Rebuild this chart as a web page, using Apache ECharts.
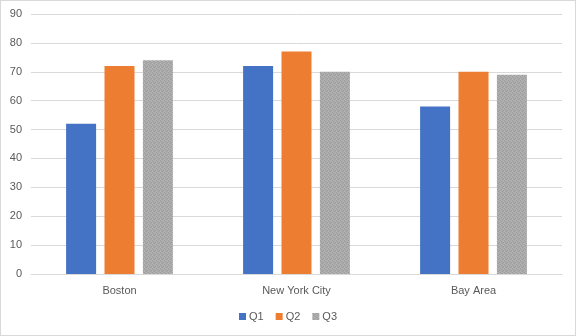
<!DOCTYPE html>
<html>
<head>
<meta charset="utf-8">
<script src="https://cdn.jsdelivr.net/npm/echarts@6/dist/echarts.min.js"></script>
<style>
html,body{margin:0;padding:0;background:#fff;}
#wrap{width:576px;height:336px;box-sizing:border-box;border:1px solid #D9D9D9;background:#fff;}
#c{width:574px;height:334px;}
</style>
</head>
<body>
<div id="wrap"><div id="c"></div></div>
<script>
const categories = ['Boston', 'New York City', 'Bay Area'];
const q1 = [52, 72, 58];
const q2 = [72, 77, 70];
const q3 = [74, 70, 69];
const seriesNames = ['Q1', 'Q2', 'Q3'];
const yTicks = {min: 0, max: 90, interval: 10};

// texture for Q3 (grey dotted pattern)
const pc = document.createElement('canvas');
pc.width = 4; pc.height = 4;
const px = pc.getContext('2d');
px.fillStyle = '#ABABAB'; px.fillRect(0,0,4,4);
px.fillStyle = '#9C9C9C';
px.fillRect(0,0,1,1); px.fillRect(2,1,1,1); px.fillRect(1,2,1,1); px.fillRect(3,3,1,1);
px.fillStyle = '#B6B6B6';
px.fillRect(2,0,1,1); px.fillRect(0,3,1,1); px.fillRect(3,2,1,1);

const font = 'Liberation Sans';
const chart = echarts.init(document.getElementById('c'));
chart.setOption({
  animation: false,
  grid: {left: 30, right: 13, top: 13, bottom: 61},
  legend: {
    bottom: 8, left: 'center',
    itemWidth: 7, itemHeight: 7, itemGap: 12,
    icon: 'rect',
    textStyle: {color: '#595959', fontSize: 11, fontFamily: font, padding: [0,0,0,-2]},
    data: seriesNames
  },
  xAxis: {
    type: 'category', data: categories,
    axisLine: {lineStyle: {color: '#D9D9D9'}},
    axisTick: {show: false},
    axisLabel: {color: '#595959', fontSize: 11, fontFamily: font, margin: 11}
  },
  yAxis: {
    type: 'value', min: yTicks.min, max: yTicks.max, interval: yTicks.interval,
    axisLine: {show: false}, axisTick: {show: false},
    splitLine: {lineStyle: {color: '#D9D9D9'}},
    axisLabel: {color: '#595959', fontSize: 11, fontFamily: font, margin: 9}
  },
  series: [
    {name: seriesNames[0], type: 'bar', data: q1, barWidth: 30, barGap: '28%', itemStyle: {color: '#4472C4'}},
    {name: seriesNames[1], type: 'bar', data: q2, barWidth: 30, barGap: '28%', itemStyle: {color: '#ED7D31'}},
    {name: seriesNames[2], type: 'bar', data: q3, barWidth: 30, barGap: '28%', itemStyle: {color: {image: pc, repeat: 'repeat'}}}
  ]
});
</script>
</body>
</html>
